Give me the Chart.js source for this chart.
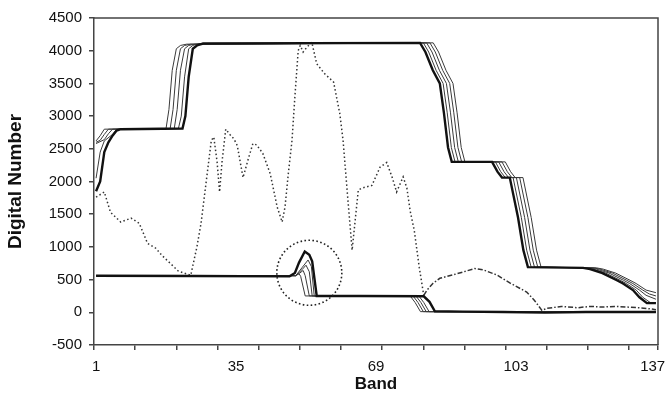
<!DOCTYPE html>
<html>
<head>
<meta charset="utf-8">
<script src="https://cdn.jsdelivr.net/npm/chart.js@4.4.1/dist/chart.umd.min.js"></script>
<style>
  html, body { margin: 0; padding: 0; background: #fff; }
</style>
</head>
<body>
<canvas id="chart" width="665" height="399"></canvas>
<script>
// ── DATA ──────────────────────────────────────────────────────────────────────
// axis
var bandLabels     = [1, 35, 69, 103, 137];
var tickMarkBands  = [0.5, 10.5, 20.5, 30.5, 40.5, 50.5, 60.5, 70.5, 80.5, 90.5, 100.5, 110.5, 120.5, 130.5, 137.5];

// spectrum (dotted, dash-dot after band ~81)
var specBands  = [1,3,4.5,7,9.5,11.5,13.5,15.5,17,19,21,24,25.5,26.5,27.8,29,29.6,30.4,31,31.6,32.5,33.5,34.5,35.3,36.7,38,39.1,40,41.5,43.3,45,46.2,46.9,47.7,48.6,49.3,50.1,50.6,51.3,52.3,53.4,54.6,56.5,58.7,60.2,61,62.2,63.2,64.7,65.6,68,70,71.6,73,74,75.6,76.5,77.3,78.3,79.5,80.6,81.4,82.8,84.5,88.7,93,95,98.4,101.5,105.6,107.5,109.3,110.5,114,118,121,124,127,130,133,136,137];
var specValues = [1760,1840,1530,1380,1440,1360,1055,980,870,750,630,565,1000,1360,2020,2630,2680,2300,1840,2300,2800,2720,2650,2550,2060,2350,2580,2560,2430,2120,1610,1380,1610,2120,2630,3300,4000,4080,3980,4060,4130,3800,3650,3520,3040,2630,1700,950,1870,1900,1940,2220,2290,2050,1840,2070,1900,1550,1250,690,260,340,440,520,590,670,650,570,450,310,180,30,60,90,70,90,80,90,80,70,50,40];

// upper (saturated) curves: thick + 4 thin
var upThickBands  = [1,2,3,4,5,6,7,22,22.7,23.5,24.5,25.5,27,79.7,81,82.8,84.5,85.5,86.5,87.4,97.2,98.5,99.6,101.5,103.5,104.8,105.9,119.3,121,124,127.5,129,131.4,133,134.8,137];
var upThickValues = [1850,2000,2450,2600,2700,2780,2800,2810,3000,3600,4030,4080,4110,4120,3980,3700,3500,3050,2520,2300,2300,2150,2060,2060,1450,950,690,680,660,600,490,440,340,230,140,140];

var up1Bands  = [1,2,3,5,6,21,21.7,22.5,23.5,24.5,26,80.5,81.8,83.6,85.3,86.3,87.3,88.2,98,99.3,100.4,102.3,104.3,105.6,106.7,120.1,121.8,124.8,128.3,129.8,132.2,133.8,135.6,137];
var up1Values = [2050,2450,2620,2720,2800,2810,3000,3600,4030,4080,4110,4120,3980,3700,3500,3050,2520,2300,2300,2150,2060,2060,1450,950,690,680,660,600,490,440,340,230,150,150];

var up2Bands  = [1,3,4,5,20,20.7,21.5,22.5,23.5,25,81.3,82.6,84.4,86.1,87.1,88.1,89,98.8,100.1,101.2,103.1,105.1,106.4,107.5,120.9,122.6,125.6,129.1,130.6,133,134.6,137];
var up2Values = [2580,2640,2730,2800,2810,3100,3700,4030,4080,4100,4120,3980,3700,3500,3050,2520,2300,2300,2150,2060,2060,1450,950,690,680,660,600,490,440,340,260,200];

var up3Bands  = [1,2,3,4,19,19.7,20.5,21.5,22.5,24,82.1,83.4,85.2,86.9,87.9,88.9,89.8,99.6,100.9,102,103.9,105.9,107.2,108.3,121.7,123.4,126.4,129.9,131.4,133.8,135.4,137];
var up3Values = [2600,2630,2720,2800,2810,3100,3700,4030,4080,4100,4120,3980,3700,3500,3050,2520,2300,2300,2150,2060,2060,1450,950,690,680,660,600,490,440,340,280,250];

var up4Bands  = [1,2,3,18,18.7,19.5,20.5,21.5,23,82.9,84.2,86,87.7,88.7,89.7,90.6,100.4,101.7,102.8,104.7,106.7,108,109.1,122.5,124.2,127.2,130.7,132.2,134.6,137];
var up4Values = [2620,2700,2800,2810,3100,3700,4030,4080,4100,4120,3980,3700,3500,3050,2520,2300,2300,2150,2060,2060,1450,950,690,680,660,600,490,440,340,300];

// lower curves: thick + 4 thin
var lowThickBands  = [1,25,48,49.3,50.3,51.7,52.8,53.5,54.6,65,80.6,82,83.3,90,100,110,120,137];
var lowThickValues = [560,555,550,600,760,930,880,780,250,250,245,160,15,10,5,-5,5,5];

var low1Bands  = [1,25,49.5,51,52.5,53.3,54,65,79.4,80.6,81.9,137];
var low1Values = [560,555,560,680,800,700,250,250,250,150,10,5];

var low2Bands  = [1,49.5,51,52,52.8,53.5,78.7,79.9,81.2,137];
var low2Values = [560,560,650,720,620,250,250,150,10,5];

var low3Bands  = [1,49.5,50.5,51.3,51.8,52.8,78,79.2,80.5,137];
var low3Values = [560,560,600,640,560,250,250,150,10,5];

var low4Bands  = [1,49.5,50.3,50.7,51.8,77.3,78.5,79.8,137];
var low4Values = [560,560,590,550,250,250,150,10,5];

// dotted circle around the lower peak
var circleBand   = 52.8;
var circleValue  = 604;

// ── HELPERS ───────────────────────────────────────────────────────────────────
var FONT = "'Liberation Sans', Arial, sans-serif";

function pts(bands, values) {
  return bands.map(function(b, i) { return { x: b, y: values[i] }; });
}

function solid(label, bands, values, thick) {
  return {
    label: label,
    data: pts(bands, values),
    borderColor: thick ? '#111' : '#3a3a3a',
    borderWidth: thick ? 2.4 : 1,
    pointRadius: 0,
    tension: 0,
    fill: false
  };
}

var framePlugin = {
  id: 'frame',
  afterDatasetsDraw: function(chart) {
    var ctx = chart.ctx, a = chart.chartArea;
    var cx = chart.scales.x.getPixelForValue(circleBand);
    var cy = chart.scales.y.getPixelForValue(circleValue);
    ctx.save();
    ctx.strokeStyle = '#222';
    ctx.lineWidth = 1.6;
    ctx.setLineDash([1.6, 2.4]);
    ctx.beginPath();
    ctx.arc(cx, cy, 32.5, 0, Math.PI * 2);
    ctx.stroke();
    ctx.setLineDash([]);
    // plot frame (top / right)
    ctx.strokeStyle = '#444';
    ctx.lineWidth = 1.5;
    ctx.beginPath();
    ctx.moveTo(a.left, a.top);
    ctx.lineTo(a.right, a.top);
    ctx.lineTo(a.right, a.bottom);
    ctx.stroke();
    ctx.restore();
  }
};

// ── CHART ─────────────────────────────────────────────────────────────────────
new Chart(document.getElementById('chart').getContext('2d'), {
  type: 'line',
  data: {
    datasets: [
      solid('Upper', upThickBands, upThickValues, true),
      solid('Upper 1', up1Bands, up1Values, false),
      solid('Upper 2', up2Bands, up2Values, false),
      solid('Upper 3', up3Bands, up3Values, false),
      solid('Upper 4', up4Bands, up4Values, false),
      solid('Lower', lowThickBands, lowThickValues, true),
      solid('Lower 1', low1Bands, low1Values, false),
      solid('Lower 2', low2Bands, low2Values, false),
      solid('Lower 3', low3Bands, low3Values, false),
      solid('Lower 4', low4Bands, low4Values, false),
      {
        label: 'Spectrum',
        data: pts(specBands, specValues),
        borderColor: '#333',
        borderWidth: 1.5,
        borderDash: [1.5, 2.5],
        pointRadius: 0,
        tension: 0,
        fill: false,
        segment: {
          borderDash: function(c) { return c.p0.parsed.x >= 80.6 ? [5, 2, 1.5, 2] : [1.5, 2.5]; }
        }
      }
    ]
  },
  options: {
    responsive: false,
    animation: false,
    layout: { padding: { left: 0, right: 7, top: 18, bottom: 0 } },
    plugins: { legend: { display: false }, tooltip: { enabled: false } },
    scales: {
      x: {
        type: 'linear', position: 'bottom', min: 0.5, max: 137.5,
        afterBuildTicks: function(s) { s.ticks = tickMarkBands.map(function(v) { return { value: v }; }); },
        ticks: { autoSkip: false, maxRotation: 0, callback: function() { return ''; } },
        grid: { drawOnChartArea: false, drawTicks: true, tickLength: 5, color: '#444', lineWidth: 1.5 },
        border: { display: true, color: '#444', width: 1.5 },
        afterFit: function(s) { s.height = 5; s.paddingLeft = 0; s.paddingRight = 0; }
      },
      x2: {
        type: 'linear', position: 'bottom', weight: 1, min: 0.5, max: 137.5,
        // last label pulled slightly inward so it stays inside the canvas, as in the original
        afterBuildTicks: function(s) { s.ticks = bandLabels.map(function(v) { return { value: Math.min(v, 136.2) }; }); },
        ticks: { autoSkip: false, maxRotation: 0, padding: 8, color: '#111', font: { family: FONT, size: 15 },
                 callback: function(v, i) { return String(bandLabels[i]); } },
        grid: { display: false, drawTicks: false },
        border: { display: false },
        title: { display: true, text: 'Band', color: '#111', font: { family: FONT, size: 17, weight: 'bold' },
                 padding: { top: 0, bottom: 4 } },
        afterFit: function(s) { s.height = 49; s.paddingLeft = 0; s.paddingRight = 0; }
      },
      y: {
        min: -500, max: 4500,
        ticks: { stepSize: 500, padding: 7, color: '#111', font: { family: FONT, size: 15 },
                 callback: function(v) { return String(v); } },
        grid: { drawOnChartArea: false, tickLength: 5, color: '#444', lineWidth: 1.5 },
        border: { color: '#444', width: 1.5 },
        title: { display: true, text: 'Digital Number', color: '#111', font: { family: FONT, size: 19, weight: 'bold' },
                 padding: { top: 4, bottom: 0 } },
        afterFit: function(s) { s.width = 94; }
      }
    }
  },
  plugins: [framePlugin]
});
</script>
</body>
</html>
